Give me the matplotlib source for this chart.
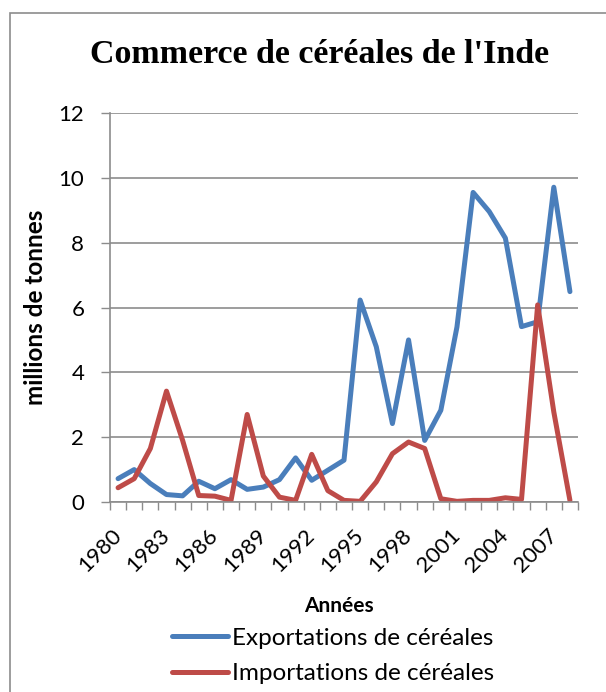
import numpy as np
import matplotlib
matplotlib.use('Agg')
from matplotlib import pyplot as plt
from matplotlib.patches import Rectangle

# data (millions de tonnes)
years = list(range(1980, 2009))
exports = [0.72, 1.0, 0.57, 0.23, 0.19, 0.64, 0.41, 0.69, 0.39, 0.46,
           0.69, 1.36, 0.67, 0.98, 1.29, 6.23, 4.79, 2.42, 5.0, 1.9,
           2.83, 5.4, 9.55, 8.96, 8.14, 5.41, 5.56, 9.71, 6.49]
imports = [0.44, 0.72, 1.65, 3.42, 1.9, 0.2, 0.18, 0.05, 2.7, 0.8,
           0.15, 0.05, 1.47, 0.35, 0.05, 0.02, 0.62, 1.49, 1.85, 1.65,
           0.1, 0.02, 0.05, 0.05, 0.13, 0.08, 6.08, 2.78, 0.05]
tick_years = years[::3]

W, H = 606, 692
plt.rcParams['font.family'] = ['Lato', 'DejaVu Sans']
fig = plt.figure(figsize=(W / 100, H / 100), dpi=100)
fig.patch.set_facecolor('white')

# chart border
fig.patches.append(Rectangle((10 / W, -0.1), 1.2, 1 - 13 / H + 0.1,
                             transform=fig.transFigure, fill=False,
                             edgecolor='#8c8c8c', linewidth=1.2))

ax = fig.add_axes([110 / W, 1 - 502 / H, (578 - 110) / W, (502 - 113) / H])
grey = '#8c8c8c'

l1, = ax.plot(years, exports, color='#4A7EBB', linewidth=3.6,
              solid_capstyle='round', solid_joinstyle='round',
              label='Exportations de céréales')
l2, = ax.plot(years, imports, color='#BE4B48', linewidth=3.6,
              solid_capstyle='round', solid_joinstyle='round',
              label='Importations de céréales')

ax.set_xlim(years[0] - 0.5, years[-1] + 0.5)
ax.set_ylim(0, 12)
ax.set_yticks(np.arange(0, 13, 2))
ax.yaxis.grid(True, color=grey, linewidth=1.2)
ax.set_axisbelow(True)

# tick marks between categories, labels on categories
ax.set_xticks(np.arange(years[0] - 0.5, years[-1] + 1, 1), minor=True)
ax.set_xticks(tick_years)
ax.set_xticklabels([str(y) for y in tick_years], rotation=45,
                   ha='right', va='center', rotation_mode='anchor',
                   fontsize=16)
ax.tick_params(axis='x', which='major', length=0, pad=22)
ax.tick_params(axis='x', which='minor', length=6, width=1, color=grey,
               direction='out')
ax.tick_params(axis='y', length=6.5, width=1, color=grey, labelsize=16, pad=12)

for s in ['top', 'right']:
    ax.spines[s].set_visible(False)
for s in ['left', 'bottom']:
    ax.spines[s].set_color(grey)
    ax.spines[s].set_linewidth(1.2)

fig.text(36 / W, 1 - 307.5 / H, 'millions de tonnes', rotation=90,
         fontsize=17.5, fontweight='bold', ha='center', va='center')

fig.text(320 / W, 1 - 63 / H, "Commerce de céréales de l'Inde",
         family='Liberation Serif', fontsize=24.5, fontweight='bold',
         ha='center', va='baseline')
fig.text(339 / W, 1 - 606 / H, 'Années', fontsize=15, fontweight='bold',
         ha='center', va='center')

fig.legend(handles=[l1, l2], loc='center left',
           bbox_to_anchor=(172 / W, 1 - 656 / H), frameon=False,
           fontsize=17.5, handlelength=2.3, handletextpad=0.17,
           borderpad=0, borderaxespad=0, labelspacing=0.6)

fig.savefig('out.png', dpi=100)
